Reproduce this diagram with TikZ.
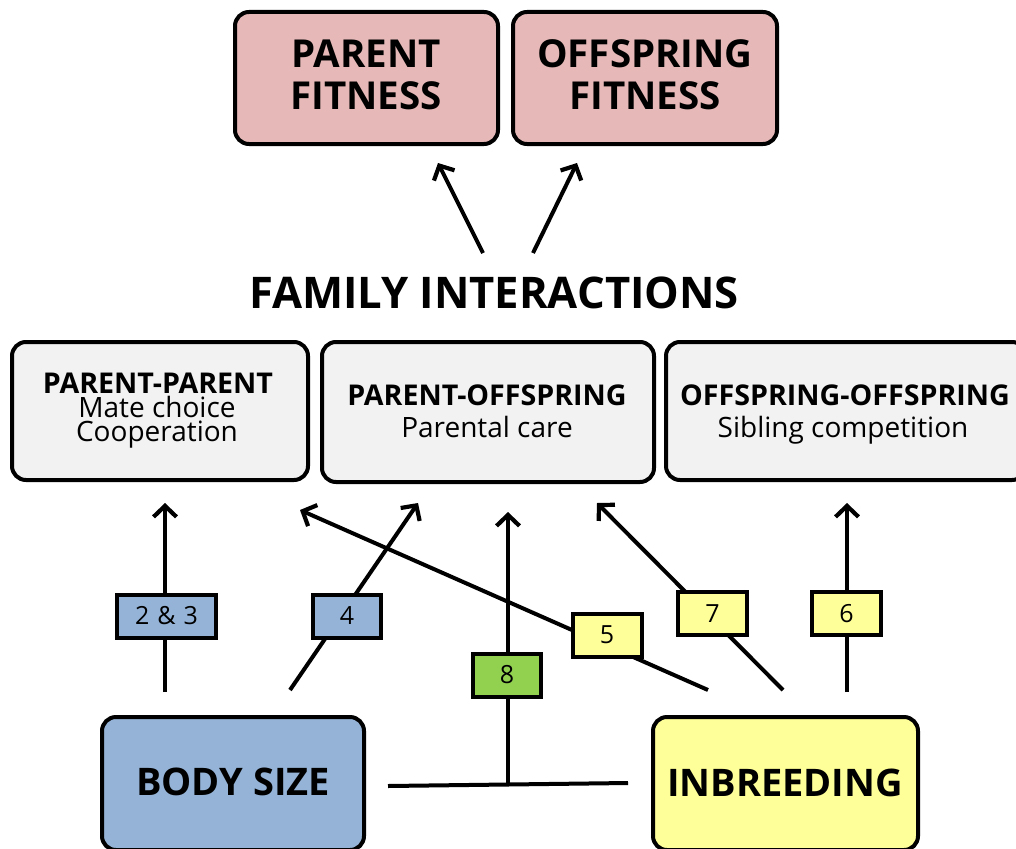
\documentclass[tikz,border=0pt]{standalone}
\usepackage{fontspec}
\setmainfont{Open Sans}
\usetikzlibrary{arrows.meta}
\definecolor{pinkf}{HTML}{E6B9B8}
\definecolor{grayf}{HTML}{F2F2F2}
\definecolor{bluef}{HTML}{95B3D7}
\definecolor{yellowf}{HTML}{FFFF99}
\definecolor{greenf}{HTML}{92D050}
\tikzset{
  bigbox/.style={draw=black, line width=4pt, rounded corners=14pt, inner sep=0pt},
  txt/.style={anchor=base, inner sep=0pt},
  toptxt/.style={txt, font=\fontsize{38.5}{42}\selectfont\bfseries},
  headtxt/.style={txt, font=\fontsize{28.6}{30}\selectfont\bfseries},
  subtxt/.style={txt, font=\fontsize{28}{30}\selectfont},
  bottxt/.style={txt, font=\fontsize{38}{42}\selectfont\bfseries},
  lab/.style={draw=black, line width=4pt, inner sep=0pt, minimum height=43pt, minimum width=69pt, font=\fontsize{25}{26}\selectfont},
  arr/.style={line width=4pt, -{Straight Barb[length=11pt,width=23pt,line width=4.2pt,line join=miter]}},
  plain/.style={line width=4pt},
}
\begin{document}
\begin{tikzpicture}[x=1pt,y=-1pt]
\useasboundingbox (0,0) rectangle (1016,848);
% top boxes
\node[bigbox, fill=pinkf, minimum width=263pt, minimum height=132pt] (pf) at (366.5,78) {};
\node[bigbox, fill=pinkf, minimum width=264pt, minimum height=132pt] (of) at (645,78) {};
\node[toptxt] (pf1) at (366,68) {PARENT};
\node[toptxt] (pf2) at (366,110) {FITNESS};
\node[toptxt] (of1) at (645,68) {OFFSPRING};
\node[toptxt] (of2) at (645,110) {FITNESS};
\node[txt, font=\fontsize{43.6}{48}\selectfont\bfseries] (fam) at (494,308) {FAMILY INTERACTIONS};
\coordinate (fa1) at (483,253);
\coordinate (fa2) at (533,253);
\coordinate (pft) at (438,163);
\coordinate (oft) at (577,163);
\draw[arr] (fa1) -- (pft);
\draw[arr] (fa2) -- (oft);
% middle boxes
\node[bigbox, fill=grayf, minimum width=296pt, minimum height=138pt] (pp) at (160,411) {};
\node[bigbox, fill=grayf, minimum width=332pt, minimum height=140pt] (po) at (488,412) {};
\node[bigbox, fill=grayf, minimum width=360pt, minimum height=138pt] (oo) at (846,411) {};
\node[headtxt] (pp1) at (158,393) {PARENT-PARENT};
\node[subtxt] (pp2) at (157,417) {Mate choice};
\node[subtxt] (pp3) at (157,441.5) {Cooperation};
\node[headtxt] (po1) at (487,405) {PARENT-OFFSPRING};
\node[subtxt] (po2) at (487,437) {Parental care};
\node[headtxt] (oo1) at (845,405) {OFFSPRING-OFFSPRING};
\node[subtxt] (oo2) at (843,437) {Sibling competition};
% bottom boxes
\node[bigbox, fill=bluef, minimum width=262pt, minimum height=133pt] (bs) at (233,783.5) {};
\node[bigbox, fill=yellowf, minimum width=265pt, minimum height=133pt] (ib) at (785.5,783.5) {};
\node[bottxt] (bst) at (233,795) {BODY SIZE};
\node[bottxt] (ibt) at (785,796) {INBREEDING};
% connectors
\coordinate (s23) at (165,692); \coordinate (e23) at (165,503);
\coordinate (s4) at (290,690);  \coordinate (e4) at (418,503);
\coordinate (s5) at (708,690);  \coordinate (e5) at (300,510);
\coordinate (s7) at (783,690);  \coordinate (e7) at (597,503);
\coordinate (s6) at (847,692);  \coordinate (e6) at (847,503);
\coordinate (bl) at (388,786);  \coordinate (br) at (628,783);
\coordinate (s8) at (508,784.5);  \coordinate (e8) at (508,512);
\draw[plain] (bl) -- (br);
\draw[arr] (s23) -- (e23);
\draw[arr] (s4) -- (e4);
\draw[arr] (s5) -- (e5);
\draw[arr] (s7) -- (e7);
\draw[arr] (s6) -- (e6);
\draw[arr] (s8) -- (e8);
% labels
\node[lab, fill=bluef, minimum width=99pt] (l23) at (166.5,616) {2\hspace{8pt}\&\hspace{8pt}3};
\node[lab, fill=bluef, minimum width=68pt] (l4) at (347,616) {4};
\node[lab, fill=yellowf] (l5) at (607,635) {5};
\node[lab, fill=yellowf] (l7) at (712.5,613.5) {7};
\node[lab, fill=yellowf] (l6) at (846.5,613.5) {6};
\node[lab, fill=greenf, minimum width=68pt] (l8) at (507,675) {8};
\end{tikzpicture}
\end{document}
